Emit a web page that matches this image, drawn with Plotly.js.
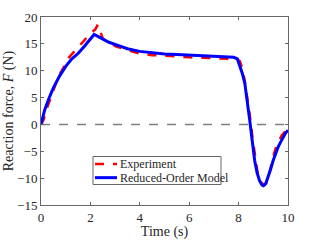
<!DOCTYPE html>
<html><head><meta charset="utf-8">
<script src="https://cdn.plot.ly/plotly-3.0.1.min.js"></script>
<style>html,body{margin:0;padding:0;background:#fff}#c{width:319px;height:240px}</style>
</head><body><div id="c"></div>
<script>
const modelT = [0,0.15,0.3,0.5,0.75,1.0,1.25,1.5,1.75,2.0,2.15,2.3,2.5,2.75,3.0,3.5,4.0,4.5,5.0,5.5,6.0,6.5,7.0,7.5,7.8,7.95,8.05,8.15,8.25,8.35,8.45,8.55,8.65,8.75,8.85,8.95,9.0,9.1,9.2,9.3,9.4,9.5,9.6,9.7,9.8,9.9,10];
const modelF = [0,2.7,4.6,6.8,9.0,10.8,12.2,13.2,14.5,15.9,16.75,16.4,15.9,15.3,14.9,14.1,13.6,13.3,13.1,13.0,12.9,12.8,12.75,12.65,12.5,12.2,11.0,9.5,7.7,4.5,0.8,-3.0,-6.7,-9.0,-10.5,-11.3,-11.4,-11.0,-9.8,-8.3,-6.7,-5.3,-4.2,-3.3,-2.4,-1.6,-1.07];
const expT = [0,0.1,0.2,0.35,0.5,0.6,0.7,0.8,0.9,1.0,1.1,1.2,1.3,1.4,1.5,1.6,1.7,1.8,1.9,2.0,2.1,2.2,2.3,2.4,2.5,2.6,2.8,3.0,3.3,3.6,4.0,4.5,5.0,5.5,6.0,6.5,7.0,7.5,7.9,8.05,8.15,8.25,8.35,8.45,8.55,8.65,8.75,8.85,8.95,9.05,9.15,9.25,9.35,9.45,9.55,9.65,9.75,9.85,10];
const expF = [0,0.8,2.5,4.6,6.3,7.6,8.7,9.7,10.5,11.6,12.3,12.8,13.4,13.9,14.2,14.9,15.2,15.9,16.6,17.0,17.4,17.7,18.6,17.2,16.0,15.6,15.2,14.6,14.1,13.7,13.2,12.9,12.8,12.6,12.5,12.4,12.3,12.3,12.2,11.8,10.5,8.0,5.0,1.8,-2.0,-5.5,-8.5,-10.2,-11.0,-11.3,-10.7,-9.0,-7.0,-5.2,-3.8,-2.8,-2.0,-1.5,-1.0];
const xTicks = [0,2,4,6,8,10];
const yTicks = [-15,-10,-5,0,5,10,15,20];
const zeroLineX = [0,10];
const zeroLineY = [0,0];
const legendLabels = ['Experiment','Reduced-Order Model'];

const font = {family:'"Liberation Serif","Times New Roman",serif', color:'#262626'};
const traces = [
  {x:zeroLineX, y:zeroLineY, mode:'lines', line:{color:'#808080', width:1.5, dash:'dash'}, showlegend:false},
  {x:expT, y:expF, mode:'lines', name:legendLabels[0], line:{color:'#ff0000', width:2.5, dash:'dash'}, showlegend:false},
  {x:modelT, y:modelF, mode:'lines', name:legendLabels[1], line:{color:'#0000ff', width:3}, showlegend:false}
];
const axis = {showgrid:false, zeroline:false, showline:true, linecolor:'#666', linewidth:1, mirror:'ticks', ticks:'inside', ticklen:3, tickcolor:'#666', tickfont:{...font, size:13}};
const yTop = 0.2580, yBot = 0.1090;
const shapes = [
  {type:'rect', xref:'paper', yref:'paper', x0:0.2105, x1:0.7287, y0:yBot, y1:yTop, line:{color:'#666', width:1}, fillcolor:'#fff', layer:'above'},
  {type:'line', xref:'paper', yref:'paper', x0:0.2186, x1:0.3077, y0:0.2175, y1:0.2175, line:{color:'#ff0000', width:2.5, dash:'dash'}, layer:'above'},
  {type:'line', xref:'paper', yref:'paper', x0:0.2186, x1:0.3077, y0:0.1455, y1:0.1455, line:{color:'#0000ff', width:3}, layer:'above'}
];
const annotations = [
  {xref:'paper', yref:'paper', x:0.3158, y:0.2175, xanchor:'left', yanchor:'middle', text:legendLabels[0], showarrow:false, borderpad:0, font:{...font, size:12}},
  {xref:'paper', yref:'paper', x:0.3158, y:0.1455, xanchor:'left', yanchor:'middle', text:legendLabels[1], showarrow:false, borderpad:0, font:{...font, size:12}}
];
const layout = {
  width:319, height:240, margin:{l:41, r:31, t:17, b:35},
  paper_bgcolor:'#fff', plot_bgcolor:'#fff', font:font,
  xaxis:{...axis, range:[0,10], tickvals:xTicks, title:{text:'Time (s)', font:{...font, size:14}, standoff:2}},
  yaxis:{...axis, range:[-15,20], tickvals:yTicks, title:{text:'Reaction force, <i>F</i> (N)', font:{...font, size:14}, standoff:0}},
  shapes:shapes, annotations:annotations, showlegend:false
};
Plotly.newPlot('c', traces, layout, {staticPlot:true, displayModeBar:false});
</script></body></html>
